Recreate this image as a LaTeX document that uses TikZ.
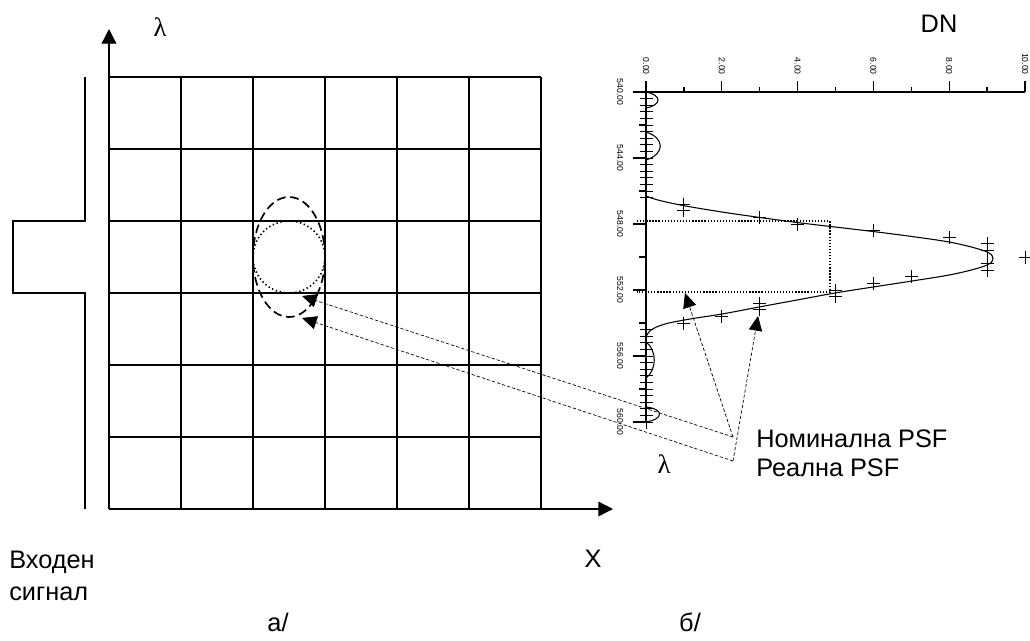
\documentclass[tikz,border=0pt]{standalone}
\usepackage{fontspec}
\setmainfont{Liberation Sans}
\newfontfamily\greekserif{Liberation Serif}
\usetikzlibrary{arrows.meta}
\begin{document}
\begin{tikzpicture}[x=0.75pt,y=-0.75pt,
  gridline/.style={line width=1pt},
  axisarrow/.style={line width=1pt,-{Triangle[length=11pt,width=11pt]}},
  lbl/.style={font=\fontsize{19}{22}\selectfont, inner sep=0pt},
  lam/.style={font=\greekserif\fontsize{20}{22}\selectfont, inner sep=0pt},
  ticklbl/.style={font=\fontsize{6.5}{7}\selectfont, inner sep=0pt, rotate=-90},
  dashedell/.style={line width=1.25pt, dash pattern=on 6.5pt off 3.5pt},
  dottedcirc/.style={line width=1.25pt, dash pattern=on 1pt off 2pt},
  dottedrect/.style={line width=1.1pt, dash pattern=on 1pt off 1.3pt},
  pointer/.style={line width=0.5pt, dash pattern=on 2.5pt off 1.5pt, -{Triangle[length=11pt,width=10pt]}},
  curve/.style={line width=0.8pt},
  mk/.style={line width=0.75pt},
  axisline/.style={line width=1pt}
]
\useasboundingbox (0,0) rectangle (1030,640);

% ---------- left panel: detector grid ----------
\coordinate (O) at (109,509);
\coordinate (ytip) at (109,29);
\coordinate (xtip) at (613,509);
\foreach \c in {181,253,325,397,469,541} \draw[gridline] (\c,77) -- (\c,509);
\foreach \r in {77,149,221,293,365,437} \draw[gridline] (109,\r) -- (541,\r);
\draw[axisarrow] (O) -- (ytip);
\draw[axisarrow] (O) -- (xtip);
\node[lam] (lamL) at (160,27.5) {λ};
\node[lbl, anchor=base] (xl) at (593,567) {X};

% input signal
\draw[gridline] (85,77) -- (85,221) -- (13,221) -- (13,293) -- (85,293) -- (85,509);
\node[lbl, anchor=base west] (in1) at (9,568) {Входен};
\node[lbl, anchor=base west] (in2) at (9,600) {сигнал};

% PSF spots
\draw[dashedell] (289,257) ellipse [x radius=27pt, y radius=45pt];
\draw[dottedcirc] (289,257) circle [radius=27pt];

% ---------- right panel: plot ----------
\coordinate (P0) at (646,92);
\draw[axisline] (633,92) -- (1025,92);
\draw[axisline] (P0) -- (646,422);
% DN ticks
\foreach \k/\t in {0/0.00,2/2.00,4/4.00,6/6.00,8/8.00,10/10.00} {
  \draw[axisline] (646+37.9*\k,81) -- (646+37.9*\k,92);
  \node[ticklbl, anchor=east] at (646+37.9*\k,75) {\t};
}
\foreach \k in {1,3,5,7,9} \draw[axisline] (646+37.9*\k,87) -- (646+37.9*\k,92);
% lambda ticks
\foreach \l/\t in {0/540.00,4/544.00,8/548.00,12/552.00,16/556.00,20/560.00} {
  \draw[axisline] (633,92+16.5*\l) -- (646,92+16.5*\l);
  \node[ticklbl] at (620,92+16.5*\l) {\t};
}
\foreach \l in {2,6,10,14,18} \draw[axisline] (639,92+16.5*\l) -- (646,92+16.5*\l);
\node[lbl, anchor=base] (dn) at (939,32) {DN};
\node[lam] (lamR) at (664,464) {λ};

% data markers
\foreach \i in {0,...,16,36,37,...,50}
  \draw[mk] (639.5,92+6.6*\i) -- (652.5,92+6.6*\i) (646,85.5+6.6*\i) -- (646,98.5+6.6*\i);
\foreach \d/\i in {1/17,1/18,3/19,4/20,6/21,8/22,9/23,9/24,10/25,9/26,9/27,7/28,6/29,5/30,5/31,3/32,3/33,2/34,1/35}
  \draw[mk] (639.5+37.9*\d,92+6.6*\i) -- (652.5+37.9*\d,92+6.6*\i) (646+37.9*\d,85.5+6.6*\i) -- (646+37.9*\d,98.5+6.6*\i);

% fitted curve
\draw[curve] (646,92) .. controls (662,95) and (662,105) .. (646,108) -- (646,132)
  .. controls (665,138) and (665,154) .. (646,160) -- (646,196);
\draw[curve] plot[smooth, tension=0.6] coordinates {(646,196) (658,200) (683,205.5) (722,212) (760,217.5) (797,222.5) (835,227) (873,231.5) (912,236.5) (949,242) (975,248) (989,253) (993,258.5) (989,264) (975,269) (949,275) (912,281) (873,287) (835,293) (797,300) (759,307) (722,314) (690,319) (665,324) (651,330) (646,337)};
\draw[curve] (646,337) -- (646,342) .. controls (657,350) and (657,370) .. (646,378) -- (646,407)
  .. controls (664,409) and (664,419) .. (646,422);

% nominal PSF (FWHM box)
\draw[dottedrect] (637,221) -- (830,221) -- (830,292) -- (637,292);

% ---------- legend and pointers ----------
\node[lbl, anchor=base west] (nom) at (756,447) {Номинална PSF};
\node[lbl, anchor=base west] (real) at (756,476) {Реална PSF};
\coordinate (nomsrc) at (733,437);
\coordinate (realsrc) at (733,461);
\coordinate (nomc) at (302,296);
\coordinate (realc) at (302,318);
\coordinate (nomp) at (685,293);
\coordinate (realp) at (758,316);
\draw[pointer] (nomsrc) -- (nomc);
\draw[pointer] (nomsrc) -- (nomp);
\draw[pointer] (realsrc) -- (realc);
\draw[pointer] (realsrc) -- (realp);

% panel captions
\node[lbl, anchor=base] (capa) at (278,631) {а/};
\node[lbl, anchor=base] (capb) at (690,631) {б/};
\end{tikzpicture}
\end{document}
